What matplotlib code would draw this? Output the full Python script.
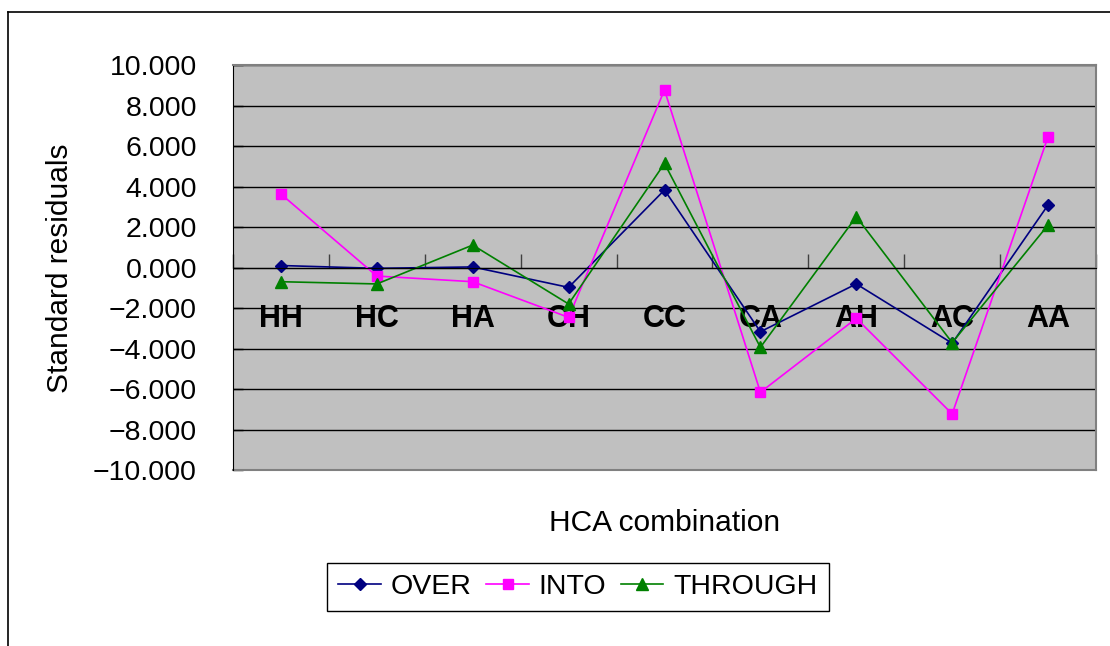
import numpy as np
import matplotlib
matplotlib.use("Agg")
import matplotlib.pyplot as plt
from matplotlib.lines import Line2D
from matplotlib.ticker import FixedLocator, FuncFormatter

categories = ["HH", "HC", "HA", "CH", "CC", "CA", "AH", "AC", "AA"]
over = [0.10, -0.04, 0.03, -0.98, 3.83, -3.17, -0.81, -3.74, 3.09]
into = [3.63, -0.42, -0.70, -2.46, 8.77, -6.16, -2.51, -7.23, 6.46]
through = [-0.70, -0.81, 1.11, -1.80, 5.14, -3.94, 2.51, -3.71, 2.10]
y_ticks = np.arange(-10, 11, 2)

plt.rcParams["font.family"] = ["Liberation Sans", "DejaVu Sans"]

fig = plt.figure(figsize=(11.1, 6.46), dpi=100)
ax = fig.add_axes([0.2099, 0.2724, 0.7775, 0.6269])
ax.set_facecolor("#C0C0C0")

x = np.arange(len(categories))
ax.plot(x, over, color="#000080", marker="D", markersize=6, lw=1.2, label="OVER")
ax.plot(x, into, color="#FF00FF", marker="s", markersize=7, lw=1.2, label="INTO")
ax.plot(x, through, color="#008000", marker="^", markersize=8.5, lw=1.2, label="THROUGH")

ax.set_xlim(-0.5, len(categories) - 0.5)
ax.set_ylim(-10, 10)

# y axis
ax.set_yticks(y_ticks)
ax.yaxis.set_major_formatter(FuncFormatter(lambda v, p: f"{v:.3f}".replace("-", "\u2212")))
ax.tick_params(axis="y", direction="in", length=7, width=1, pad=26, labelsize=20.5, colors="black")
ax.grid(axis="y", color="black", lw=1)
ax.set_axisbelow(True)

# x axis crosses at zero, ticks between categories, labels at centers
ax.spines["bottom"].set_position(("data", 0))
ax.spines["bottom"].set_color("black")
ax.xaxis.set_major_locator(FixedLocator(np.arange(-0.5, len(categories), 1.0)))
ax.xaxis.set_minor_locator(FixedLocator(x))
ax.xaxis.set_major_formatter(FuncFormatter(lambda v, p: ""))
ax.xaxis.set_minor_formatter(FuncFormatter(lambda v, p: categories[int(round(v))]))
ax.tick_params(axis="x", which="major", direction="in", length=10, width=1, colors="#404040")
ax.tick_params(axis="x", which="minor", length=0, pad=26, labelsize=22)
for lab in ax.get_xticklabels(minor=True):
    lab.set_fontweight("bold")

ax.spines["left"].set_color("black")
ax.spines["top"].set_color("#808080")
ax.spines["right"].set_color("#808080")
ax.spines["top"].set_linewidth(1.5)
ax.spines["right"].set_linewidth(1.5)
ax.axhline(-10, color="#808080", lw=1.5, clip_on=False)

fig.text(60 / 1110, 1 - 268 / 646, "Standard residuals", rotation=90,
         ha="center", va="center", fontsize=21.5)
fig.text(665 / 1110, 1 - 523 / 646, "HCA combination",
         ha="center", va="center", fontsize=21.5)

leg = fig.legend(loc="center", bbox_to_anchor=(578 / 1110, 1 - 587 / 646), ncol=3,
                 fontsize=20.5, fancybox=False, framealpha=1, edgecolor="black",
                 handlelength=1.5, handletextpad=0.35, columnspacing=0.5,
                 borderpad=0.4)
leg.get_frame().set_linewidth(1)

# outer chart border (top and left visible)
fig.add_artist(Line2D([8 / 1110, 1], [1 - 11.5 / 646, 1 - 11.5 / 646], color="black", lw=1.2))
fig.add_artist(Line2D([8 / 1110, 8 / 1110], [0, 1 - 11.5 / 646], color="black", lw=1.2))

fig.savefig("out.png", dpi=100)
